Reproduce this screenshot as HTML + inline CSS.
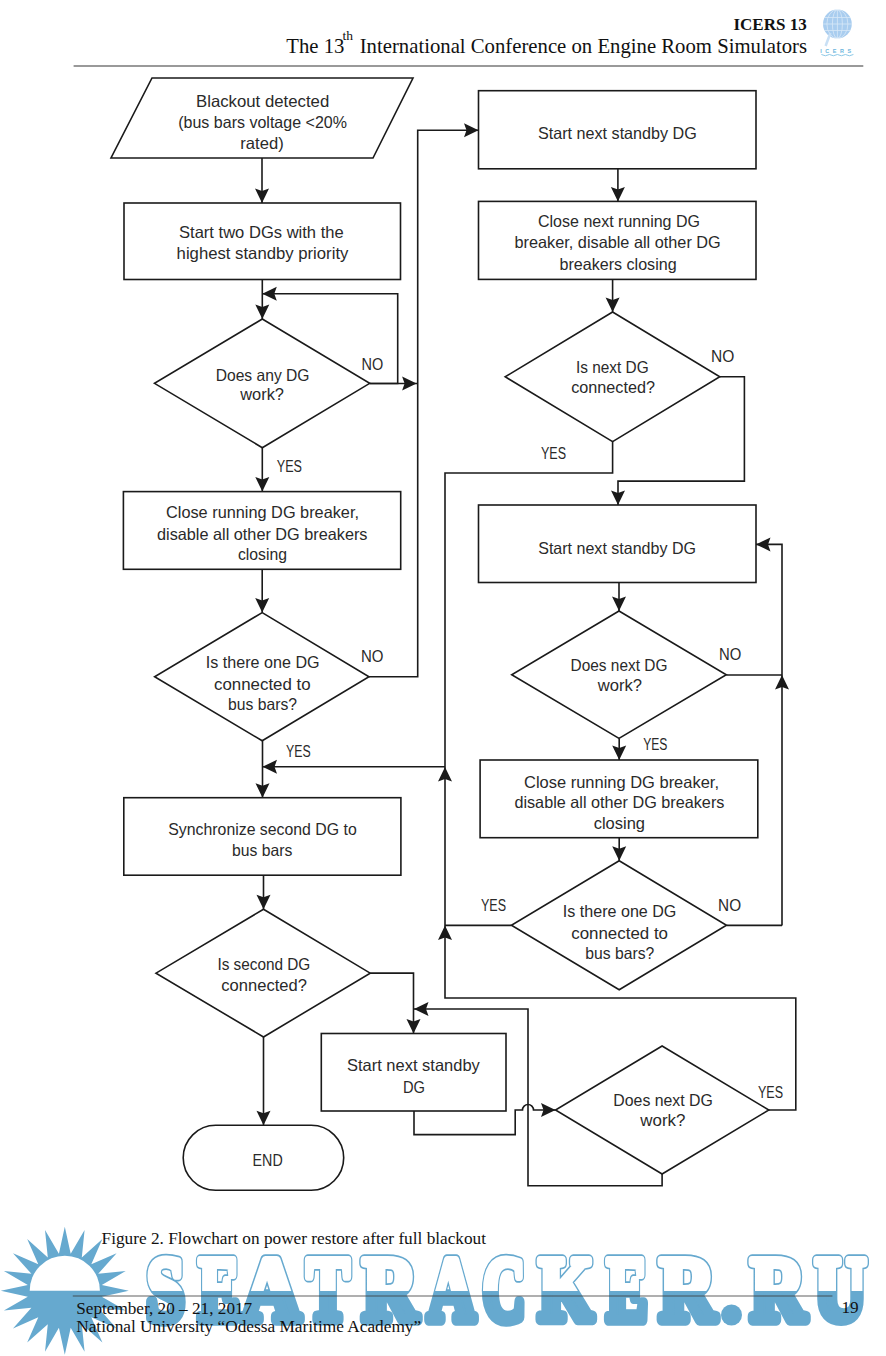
<!DOCTYPE html>
<html><head><meta charset="utf-8"><style>
html,body{margin:0;padding:0;background:#fff;}
body{width:886px;height:1356px;overflow:hidden;position:relative;}
svg{position:absolute;left:0;top:0;}
</style></head><body>
<svg width="886" height="1356" viewBox="0 0 886 1356">
<defs>
<clipPath id="ctop"><rect x="0" y="0" width="886" height="1291"/></clipPath>
<clipPath id="cbot"><rect x="0" y="1291" width="886" height="100"/></clipPath>
</defs>
<rect width="886" height="1356" fill="#fff"/>
<!-- header -->
<text x="806.7" y="30.4" text-anchor="end" font-family="Liberation Serif" font-weight="bold" font-size="17" fill="#111">ICERS 13</text>
<text x="286.3" y="53.4" font-family="Liberation Serif" font-size="20.7" fill="#111">The 13</text>
<text x="342.5" y="39.5" font-family="Liberation Serif" font-size="13.5" fill="#111">th</text>
<text x="359.7" y="53.4" textLength="447.3" lengthAdjust="spacingAndGlyphs" font-family="Liberation Serif" font-size="20.7" fill="#111">International Conference on Engine Room Simulators</text>
<line x1="73.6" y1="66" x2="863.3" y2="66" stroke="#777" stroke-width="1.3"/>
<g transform="translate(837.4,24)">
<circle r="14.4" fill="#a9cdef"/>
<g stroke="#fff" stroke-width="0.8" fill="none" opacity="0.55">
<ellipse rx="5" ry="14.4"/><ellipse rx="10.5" ry="14.4"/><line x1="0" y1="-14.4" x2="0" y2="14.4"/>
<line x1="-14.4" y1="0" x2="14.4" y2="0"/><line x1="-13" y1="-6.5" x2="13" y2="-6.5"/><line x1="-13" y1="6.5" x2="13" y2="6.5"/>
</g>
<path d="M-7,9 L-11.8,22" stroke="#c9e0f5" stroke-width="2.5"/>
<text x="0" y="29" text-anchor="middle" font-family="Liberation Sans" font-weight="bold" font-size="5.5" letter-spacing="3.5" fill="#6bb5dd">ICERS</text>
<path d="M-16,30.5 q4,2.5 8,0 q4,2.5 8,0 q4,2.5 8,0 q4,2.5 8,0" stroke="#8cc8e6" stroke-width="1" fill="none"/>
</g>
<!-- flowchart -->
<g font-family="Liberation Sans" fill="#2a2a2a">
<path d="M152,78 L413,78 L373,158 L111,158 Z" fill="none" stroke="#1a1a1a" stroke-width="1.6" stroke-linejoin="miter"/>
<text x="196" y="106.6" textLength="133.2" lengthAdjust="spacingAndGlyphs" font-size="16.5">Blackout detected</text>
<text x="178.2" y="127.6" textLength="168.8" lengthAdjust="spacingAndGlyphs" font-size="16.5">(bus bars voltage &lt;20%</text>
<text x="240.3" y="149.3" textLength="43.4" lengthAdjust="spacingAndGlyphs" font-size="16.5">rated)</text>
<path d="M262,158 L262,203" fill="none" stroke="#1a1a1a" stroke-width="1.6" stroke-linejoin="miter"/>
<path d="M262.0,203.0 L269.0,188.5 L262.0,191.0 L255.0,188.5 Z" fill="#1a1a1a" stroke="none"/>
<rect x="124" y="203" width="276.5" height="76.5" fill="none" stroke="#1a1a1a" stroke-width="1.6"/>
<text x="179" y="238.4" textLength="164.7" lengthAdjust="spacingAndGlyphs" font-size="16.5">Start two DGs with the</text>
<text x="176.6" y="259.4" textLength="171.8" lengthAdjust="spacingAndGlyphs" font-size="16.5">highest standby priority</text>
<path d="M262.3,279.5 L262.3,319" fill="none" stroke="#1a1a1a" stroke-width="1.6" stroke-linejoin="miter"/>
<path d="M262.3,319.0 L269.3,304.5 L262.3,307.0 L255.3,304.5 Z" fill="#1a1a1a" stroke="none"/>
<path d="M369.7,383.5 L397.7,383.5 L397.7,293.8 L262.3,293.8" fill="none" stroke="#1a1a1a" stroke-width="1.6" stroke-linejoin="miter"/>
<path d="M262.3,293.8 L276.8,300.8 L274.3,293.8 L276.8,286.8 Z" fill="#1a1a1a" stroke="none"/>
<path d="M262.3,319 L369.7,383.35 L262.3,447.7 L154.5,383.35 Z" fill="none" stroke="#1a1a1a" stroke-width="1.6" stroke-linejoin="miter"/>
<text x="215.7" y="380.6" textLength="93.8" lengthAdjust="spacingAndGlyphs" font-size="16.5">Does any DG</text>
<text x="240.2" y="400.4" textLength="43.8" lengthAdjust="spacingAndGlyphs" font-size="16.5">work?</text>
<text x="361.6" y="370.1" textLength="21.7" lengthAdjust="spacingAndGlyphs" font-size="16">NO</text>
<path d="M369.7,383.5 L417.6,383.5" fill="none" stroke="#1a1a1a" stroke-width="1.6" stroke-linejoin="miter"/>
<path d="M416.6,383.5 L402.1,376.5 L404.6,383.5 L402.1,390.5 Z" fill="#1a1a1a" stroke="none"/>
<path d="M262.3,447.7 L262.3,491.6" fill="none" stroke="#1a1a1a" stroke-width="1.6" stroke-linejoin="miter"/>
<path d="M262.3,491.6 L269.3,477.1 L262.3,479.6 L255.3,477.1 Z" fill="#1a1a1a" stroke="none"/>
<text x="276.8" y="472.2" textLength="25.2" lengthAdjust="spacingAndGlyphs" font-size="16">YES</text>
<rect x="123.4" y="491.6" width="277.3" height="77.7" fill="none" stroke="#1a1a1a" stroke-width="1.6"/>
<text x="166" y="518.0" textLength="193.0" lengthAdjust="spacingAndGlyphs" font-size="16.5">Close running DG breaker,</text>
<text x="157" y="539.7" textLength="210.5" lengthAdjust="spacingAndGlyphs" font-size="16.5">disable all other DG breakers</text>
<text x="238" y="560.4" textLength="49.0" lengthAdjust="spacingAndGlyphs" font-size="16.5">closing</text>
<path d="M262.2,569.3 L262.2,612.6" fill="none" stroke="#1a1a1a" stroke-width="1.6" stroke-linejoin="miter"/>
<path d="M262.2,612.6 L269.2,598.1 L262.2,600.6 L255.2,598.1 Z" fill="#1a1a1a" stroke="none"/>
<path d="M262.2,612.6 L369,676.7 L262.2,740.8 L154.6,676.7 Z" fill="none" stroke="#1a1a1a" stroke-width="1.6" stroke-linejoin="miter"/>
<text x="205.8" y="668.3" textLength="113.8" lengthAdjust="spacingAndGlyphs" font-size="16.5">Is there one DG</text>
<text x="214" y="690.0" textLength="96.6" lengthAdjust="spacingAndGlyphs" font-size="16.5">connected to</text>
<text x="228" y="710.4" textLength="69.0" lengthAdjust="spacingAndGlyphs" font-size="16.5">bus bars?</text>
<text x="361" y="662.4" textLength="22.5" lengthAdjust="spacingAndGlyphs" font-size="16">NO</text>
<path d="M369,676.7 L417.7,676.7 L417.7,130.2 L478.5,130.2" fill="none" stroke="#1a1a1a" stroke-width="1.6" stroke-linejoin="miter"/>
<path d="M478.5,130.2 L464.0,123.2 L466.5,130.2 L464.0,137.2 Z" fill="#1a1a1a" stroke="none"/>
<text x="286" y="757.4" textLength="24.6" lengthAdjust="spacingAndGlyphs" font-size="16">YES</text>
<path d="M262.5,740.8 L262.5,797.7" fill="none" stroke="#1a1a1a" stroke-width="1.6" stroke-linejoin="miter"/>
<path d="M262.5,797.7 L269.5,783.2 L262.5,785.7 L255.5,783.2 Z" fill="#1a1a1a" stroke="none"/>
<path d="M445,766.8 L262.5,766.8" fill="none" stroke="#1a1a1a" stroke-width="1.6" stroke-linejoin="miter"/>
<path d="M262.5,766.8 L277.0,773.8 L274.5,766.8 L277.0,759.8 Z" fill="#1a1a1a" stroke="none"/>
<rect x="123.8" y="797.7" width="277.1" height="77.5" fill="none" stroke="#1a1a1a" stroke-width="1.6"/>
<text x="168.3" y="835.3" textLength="188.4" lengthAdjust="spacingAndGlyphs" font-size="16.5">Synchronize second DG to</text>
<text x="232" y="856.4" textLength="60.3" lengthAdjust="spacingAndGlyphs" font-size="16.5">bus bars</text>
<path d="M263.5,875.2 L263.5,909.3" fill="none" stroke="#1a1a1a" stroke-width="1.6" stroke-linejoin="miter"/>
<path d="M263.5,909.3 L270.5,894.8 L263.5,897.3 L256.5,894.8 Z" fill="#1a1a1a" stroke="none"/>
<path d="M263.5,909.3 L370.2,973.15 L263.5,1037 L156,973.15 Z" fill="none" stroke="#1a1a1a" stroke-width="1.6" stroke-linejoin="miter"/>
<text x="217.4" y="969.6" textLength="92.9" lengthAdjust="spacingAndGlyphs" font-size="16.5">Is second DG</text>
<text x="221.3" y="990.7" textLength="85.6" lengthAdjust="spacingAndGlyphs" font-size="16.5">connected?</text>
<path d="M370.2,973.1 L413.5,973.1 L413.5,1033.5" fill="none" stroke="#1a1a1a" stroke-width="1.6" stroke-linejoin="miter"/>
<path d="M413.5,1033.5 L420.5,1019.0 L413.5,1021.5 L406.5,1019.0 Z" fill="#1a1a1a" stroke="none"/>
<path d="M263.5,1037 L263.5,1125.3" fill="none" stroke="#1a1a1a" stroke-width="1.6" stroke-linejoin="miter"/>
<path d="M263.5,1125.3 L270.5,1110.8 L263.5,1113.3 L256.5,1110.8 Z" fill="#1a1a1a" stroke="none"/>
<rect x="183.2" y="1125.3" width="160.5" height="65" rx="32.5" ry="32.5" fill="none" stroke="#1a1a1a" stroke-width="1.6"/>
<text x="252.6" y="1165.9" textLength="30.1" lengthAdjust="spacingAndGlyphs" font-size="16.5">END</text>
<rect x="478.5" y="90.7" width="277.5" height="78.1" fill="none" stroke="#1a1a1a" stroke-width="1.6"/>
<text x="538" y="139.4" textLength="158.8" lengthAdjust="spacingAndGlyphs" font-size="16.5">Start next standby DG</text>
<path d="M617.9,168.8 L617.9,201.4" fill="none" stroke="#1a1a1a" stroke-width="1.6" stroke-linejoin="miter"/>
<path d="M617.9,201.4 L624.9,186.9 L617.9,189.4 L610.9,186.9 Z" fill="#1a1a1a" stroke="none"/>
<rect x="478.5" y="201.4" width="277.5" height="78.0" fill="none" stroke="#1a1a1a" stroke-width="1.6"/>
<text x="538" y="227.4" textLength="162.0" lengthAdjust="spacingAndGlyphs" font-size="16.5">Close next running DG</text>
<text x="514.5" y="248.4" textLength="206.3" lengthAdjust="spacingAndGlyphs" font-size="16.5">breaker, disable all other DG</text>
<text x="559.5" y="270.4" textLength="117.1" lengthAdjust="spacingAndGlyphs" font-size="16.5">breakers closing</text>
<path d="M612.6,279.4 L612.6,312" fill="none" stroke="#1a1a1a" stroke-width="1.6" stroke-linejoin="miter"/>
<path d="M612.6,312.0 L619.6,297.5 L612.6,300.0 L605.6,297.5 Z" fill="#1a1a1a" stroke="none"/>
<path d="M612.6,312 L719.8,376.8 L612.6,441.6 L505.2,376.8 Z" fill="none" stroke="#1a1a1a" stroke-width="1.6" stroke-linejoin="miter"/>
<text x="576" y="373.1" textLength="72.7" lengthAdjust="spacingAndGlyphs" font-size="16.5">Is next DG</text>
<text x="571.2" y="393.4" textLength="83.8" lengthAdjust="spacingAndGlyphs" font-size="16.5">connected?</text>
<text x="711" y="362.1" textLength="23.3" lengthAdjust="spacingAndGlyphs" font-size="16">NO</text>
<path d="M719.8,376.8 L744.4,376.8 L744.4,481.1 L618,481.1 L618,505" fill="none" stroke="#1a1a1a" stroke-width="1.6" stroke-linejoin="miter"/>
<path d="M618.0,505.0 L625.0,490.5 L618.0,493.0 L611.0,490.5 Z" fill="#1a1a1a" stroke="none"/>
<text x="541" y="459.4" textLength="25.0" lengthAdjust="spacingAndGlyphs" font-size="16">YES</text>
<path d="M612.6,441.6 L612.6,473 L445,473 L445,998 L795.8,998 L795.8,1110 L768.8,1110" fill="none" stroke="#1a1a1a" stroke-width="1.6" stroke-linejoin="miter"/>
<rect x="478.5" y="505" width="277.5" height="77.5" fill="none" stroke="#1a1a1a" stroke-width="1.6"/>
<text x="538.2" y="553.7" textLength="157.8" lengthAdjust="spacingAndGlyphs" font-size="16.5">Start next standby DG</text>
<path d="M619,582.5 L619,611" fill="none" stroke="#1a1a1a" stroke-width="1.6" stroke-linejoin="miter"/>
<path d="M619.0,611.0 L626.0,596.5 L619.0,599.0 L612.0,596.5 Z" fill="#1a1a1a" stroke="none"/>
<path d="M619,611 L726.3,674.7 L619,738.4 L511.7,674.7 Z" fill="none" stroke="#1a1a1a" stroke-width="1.6" stroke-linejoin="miter"/>
<text x="570.6" y="671.0" textLength="96.8" lengthAdjust="spacingAndGlyphs" font-size="16.5">Does next DG</text>
<text x="597.7" y="691.4" textLength="44.3" lengthAdjust="spacingAndGlyphs" font-size="16.5">work?</text>
<text x="719" y="659.9" textLength="22.3" lengthAdjust="spacingAndGlyphs" font-size="16">NO</text>
<path d="M726.3,675 L782,675" fill="none" stroke="#1a1a1a" stroke-width="1.6" stroke-linejoin="miter"/>
<path d="M782,925.4 L782,544.4 L756,544.4" fill="none" stroke="#1a1a1a" stroke-width="1.6" stroke-linejoin="miter"/>
<path d="M756.0,544.4 L770.5,551.4 L768.0,544.4 L770.5,537.4 Z" fill="#1a1a1a" stroke="none"/>
<path d="M782.0,675.0 L775.0,689.5 L782.0,687.0 L789.0,689.5 Z" fill="#1a1a1a" stroke="none"/>
<text x="643.2" y="750.0" textLength="24.2" lengthAdjust="spacingAndGlyphs" font-size="16">YES</text>
<path d="M619.2,738.4 L619.2,760" fill="none" stroke="#1a1a1a" stroke-width="1.6" stroke-linejoin="miter"/>
<path d="M619.2,760.0 L626.2,745.5 L619.2,748.0 L612.2,745.5 Z" fill="#1a1a1a" stroke="none"/>
<rect x="480.1" y="760" width="277.7" height="77.7" fill="none" stroke="#1a1a1a" stroke-width="1.6"/>
<text x="524" y="787.6" textLength="195.0" lengthAdjust="spacingAndGlyphs" font-size="16.5">Close running DG breaker,</text>
<text x="514.4" y="808.4" textLength="210.0" lengthAdjust="spacingAndGlyphs" font-size="16.5">disable all other DG breakers</text>
<text x="593.7" y="829.4" textLength="51.3" lengthAdjust="spacingAndGlyphs" font-size="16.5">closing</text>
<path d="M619.2,837.7 L619.2,860.7" fill="none" stroke="#1a1a1a" stroke-width="1.6" stroke-linejoin="miter"/>
<path d="M619.2,860.7 L626.2,846.2 L619.2,848.7 L612.2,846.2 Z" fill="#1a1a1a" stroke="none"/>
<path d="M619.2,860.7 L726.5,925.2 L619.2,989.7 L511.4,925.2 Z" fill="none" stroke="#1a1a1a" stroke-width="1.6" stroke-linejoin="miter"/>
<text x="562.8" y="917.1" textLength="113.6" lengthAdjust="spacingAndGlyphs" font-size="16.5">Is there one DG</text>
<text x="571.2" y="939.2" textLength="96.8" lengthAdjust="spacingAndGlyphs" font-size="16.5">connected to</text>
<text x="585.3" y="959.2" textLength="69.0" lengthAdjust="spacingAndGlyphs" font-size="16.5">bus bars?</text>
<text x="481" y="910.8" textLength="25.0" lengthAdjust="spacingAndGlyphs" font-size="16">YES</text>
<text x="718.1" y="910.8" textLength="23.0" lengthAdjust="spacingAndGlyphs" font-size="16">NO</text>
<path d="M511.4,925.4 L445,925.4" fill="none" stroke="#1a1a1a" stroke-width="1.6" stroke-linejoin="miter"/>
<path d="M445.0,925.4 L438.0,939.9 L445.0,937.4 L452.0,939.9 Z" fill="#1a1a1a" stroke="none"/>
<path d="M445.0,767.0 L438.0,781.5 L445.0,779.0 L452.0,781.5 Z" fill="#1a1a1a" stroke="none"/>
<path d="M726.5,925.4 L782,925.4" fill="none" stroke="#1a1a1a" stroke-width="1.6" stroke-linejoin="miter"/>
<path d="M662.1,1046 L768.8,1110.0 L662.1,1174 L555.5,1110.0 Z" fill="none" stroke="#1a1a1a" stroke-width="1.6" stroke-linejoin="miter"/>
<text x="613.3" y="1106.4" textLength="99.6" lengthAdjust="spacingAndGlyphs" font-size="16.5">Does next DG</text>
<text x="640.3" y="1126.4" textLength="45.1" lengthAdjust="spacingAndGlyphs" font-size="16.5">work?</text>
<text x="758" y="1098.4" textLength="25.0" lengthAdjust="spacingAndGlyphs" font-size="16">YES</text>
<path d="M662.1,1174 L662.1,1185.8 L528,1185.8 L528,1009 L414,1009" fill="none" stroke="#1a1a1a" stroke-width="1.6" stroke-linejoin="miter"/>
<path d="M414.0,1009.0 L428.5,1016.0 L426.0,1009.0 L428.5,1002.0 Z" fill="#1a1a1a" stroke="none"/>
<rect x="321.3" y="1033.5" width="184.7" height="77.5" fill="none" stroke="#1a1a1a" stroke-width="1.6"/>
<text x="347" y="1070.9" textLength="132.8" lengthAdjust="spacingAndGlyphs" font-size="16.5">Start next standby</text>
<text x="403" y="1092.8" textLength="22.0" lengthAdjust="spacingAndGlyphs" font-size="16.5">DG</text>
<path d="M414,1111 L414,1134.6 L515.2,1134.6 L515.2,1110 L522.5,1110 A5.5,5.5 0 0 1 533.5,1110 L555.5,1110" fill="none" stroke="#1a1a1a" stroke-width="1.6"/>
<path d="M555.5,1110.0 L541.0,1103.0 L543.5,1110.0 L541.0,1117.0 Z" fill="#1a1a1a" stroke="none"/>
</g>
<!-- watermark -->
<path d="M64.8,1226.8 L70.7,1253.8 L84.6,1229.9 L81.8,1257.4 L102.4,1239.0 L91.3,1264.3 L116.6,1253.2 L98.2,1273.8 L125.7,1271.0 L101.8,1284.9 L128.8,1290.8 L101.8,1296.7 L125.7,1310.6 L98.2,1307.8 L116.6,1328.4 L91.3,1317.3 L102.4,1342.6 L81.8,1324.2 L84.6,1351.7 L70.7,1327.8 L64.8,1354.8 L58.9,1327.8 L45.0,1351.7 L47.8,1324.2 L27.2,1342.6 L38.3,1317.3 L13.0,1328.4 L31.4,1307.8 L3.9,1310.6 L27.8,1296.7 L0.8,1290.8 L27.8,1284.9 L3.9,1271.0 L31.4,1273.8 L13.0,1253.2 L38.3,1264.3 L27.2,1239.0 L47.8,1257.4 L45.0,1229.9 L58.9,1253.8 Z" fill="#66a9cf"/>
<path d="M29.7,1290.8 A35.1,35.1 0 0 1 99.9,1290.8 Z" fill="#fff"/>
<g font-family="Liberation Serif" font-weight="bold" font-size="90">
<g clip-path="url(#ctop)" fill="#66a9cf" stroke="#66a9cf" stroke-width="11.5" stroke-linejoin="round"><text x="146.75" y="1319.5" textLength="37.5" lengthAdjust="spacingAndGlyphs">S</text><text x="198.75" y="1319.5" textLength="40.5" lengthAdjust="spacingAndGlyphs">E</text><text x="241.75" y="1319.5" textLength="58.5" lengthAdjust="spacingAndGlyphs">A</text><text x="306.75" y="1319.5" textLength="42.5" lengthAdjust="spacingAndGlyphs">T</text><text x="362.75" y="1319.5" textLength="54.5" lengthAdjust="spacingAndGlyphs">R</text><text x="427.75" y="1319.5" textLength="47.5" lengthAdjust="spacingAndGlyphs">A</text><text x="482.75" y="1319.5" textLength="42.5" lengthAdjust="spacingAndGlyphs">C</text><text x="538.75" y="1319.5" textLength="54.5" lengthAdjust="spacingAndGlyphs">K</text><text x="606.75" y="1319.5" textLength="40.5" lengthAdjust="spacingAndGlyphs">E</text><text x="659.75" y="1319.5" textLength="55.5" lengthAdjust="spacingAndGlyphs">R</text><text x="750.75" y="1319.5" textLength="54.5" lengthAdjust="spacingAndGlyphs">R</text><text x="814.75" y="1319.5" textLength="51.5" lengthAdjust="spacingAndGlyphs">U</text></g>
<g clip-path="url(#ctop)" fill="#fff" stroke="#fff" stroke-width="8.1" stroke-linejoin="round"><text x="146.75" y="1319.5" textLength="37.5" lengthAdjust="spacingAndGlyphs">S</text><text x="198.75" y="1319.5" textLength="40.5" lengthAdjust="spacingAndGlyphs">E</text><text x="241.75" y="1319.5" textLength="58.5" lengthAdjust="spacingAndGlyphs">A</text><text x="306.75" y="1319.5" textLength="42.5" lengthAdjust="spacingAndGlyphs">T</text><text x="362.75" y="1319.5" textLength="54.5" lengthAdjust="spacingAndGlyphs">R</text><text x="427.75" y="1319.5" textLength="47.5" lengthAdjust="spacingAndGlyphs">A</text><text x="482.75" y="1319.5" textLength="42.5" lengthAdjust="spacingAndGlyphs">C</text><text x="538.75" y="1319.5" textLength="54.5" lengthAdjust="spacingAndGlyphs">K</text><text x="606.75" y="1319.5" textLength="40.5" lengthAdjust="spacingAndGlyphs">E</text><text x="659.75" y="1319.5" textLength="55.5" lengthAdjust="spacingAndGlyphs">R</text><text x="750.75" y="1319.5" textLength="54.5" lengthAdjust="spacingAndGlyphs">R</text><text x="814.75" y="1319.5" textLength="51.5" lengthAdjust="spacingAndGlyphs">U</text></g>
<g clip-path="url(#cbot)" fill="#66a9cf" stroke="#66a9cf" stroke-width="11.5" stroke-linejoin="round"><text x="146.75" y="1319.5" textLength="37.5" lengthAdjust="spacingAndGlyphs">S</text><text x="198.75" y="1319.5" textLength="40.5" lengthAdjust="spacingAndGlyphs">E</text><text x="241.75" y="1319.5" textLength="58.5" lengthAdjust="spacingAndGlyphs">A</text><text x="306.75" y="1319.5" textLength="42.5" lengthAdjust="spacingAndGlyphs">T</text><text x="362.75" y="1319.5" textLength="54.5" lengthAdjust="spacingAndGlyphs">R</text><text x="427.75" y="1319.5" textLength="47.5" lengthAdjust="spacingAndGlyphs">A</text><text x="482.75" y="1319.5" textLength="42.5" lengthAdjust="spacingAndGlyphs">C</text><text x="538.75" y="1319.5" textLength="54.5" lengthAdjust="spacingAndGlyphs">K</text><text x="606.75" y="1319.5" textLength="40.5" lengthAdjust="spacingAndGlyphs">E</text><text x="659.75" y="1319.5" textLength="55.5" lengthAdjust="spacingAndGlyphs">R</text><text x="750.75" y="1319.5" textLength="54.5" lengthAdjust="spacingAndGlyphs">R</text><text x="814.75" y="1319.5" textLength="51.5" lengthAdjust="spacingAndGlyphs">U</text></g>
<circle cx="731.5" cy="1315" r="10.5" fill="#66a9cf"/>
</g>
<!-- caption/footer -->
<text x="101.6" y="1243.8" textLength="384.4" lengthAdjust="spacingAndGlyphs" font-family="Liberation Serif" font-size="17.2" fill="#111">Figure 2. Flowchart on power restore after full blackout</text>
<line x1="72.8" y1="1296" x2="832.4" y2="1296" stroke="#3a3a3a" stroke-width="1.2" opacity="0.8"/>
<text x="76.2" y="1313.9" textLength="176" lengthAdjust="spacingAndGlyphs" font-family="Liberation Serif" font-size="17.2" fill="#111">September, 20 – 21, 2017</text>
<text x="76.2" y="1331.8" textLength="345" lengthAdjust="spacingAndGlyphs" font-family="Liberation Serif" font-size="17.2" fill="#111">National University “Odessa Maritime Academy”</text>
<text x="841.5" y="1313" textLength="17.2" lengthAdjust="spacingAndGlyphs" font-family="Liberation Serif" font-size="17.2" fill="#111">19</text>
</svg>
</body></html>
